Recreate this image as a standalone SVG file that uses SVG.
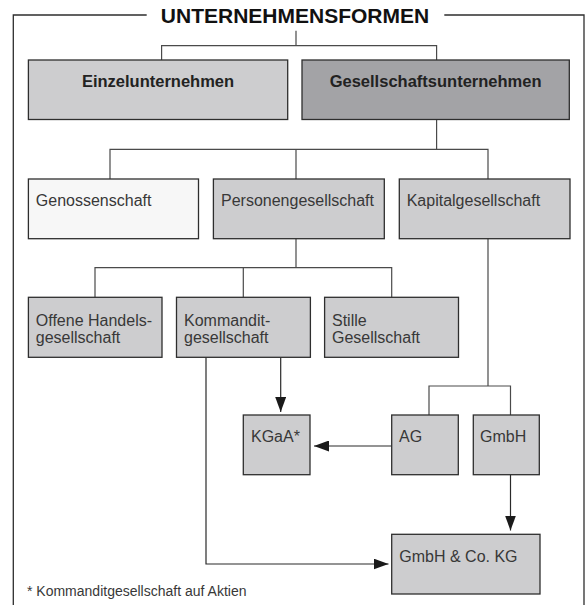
<svg xmlns="http://www.w3.org/2000/svg" width="585" height="605" viewBox="0 0 585 605">
<defs>
<style>
.box{fill:#cdcdcf;stroke:#2e2e2e;stroke-width:1.3}
.dark{fill:#a3a3a6}
.white{fill:#f7f7f7}
.line{fill:none;stroke:#4a4a4a;stroke-width:1.2}
.arrow{fill:none;stroke:#2a2a2a;stroke-width:1.2}
.frame{fill:none;stroke:#2e2e2e;stroke-width:1.3}
.t{font-family:"Liberation Sans",Arial,sans-serif;font-size:16px;fill:#383838}
.b{font-family:"Liberation Sans",Arial,sans-serif;font-size:16.5px;font-weight:bold;fill:#222;text-anchor:middle}
.title{font-family:"Liberation Sans",Arial,sans-serif;font-size:21px;font-weight:bold;fill:#111;text-anchor:middle}
.foot{font-family:"Liberation Sans",Arial,sans-serif;font-size:14px;fill:#383838}
</style>
<marker id="ah" markerUnits="userSpaceOnUse" markerWidth="15" markerHeight="11" refX="15" refY="5.5" orient="auto">
<path d="M0,0 L15,5.5 L0,11 z" fill="#1a1a1a"/>
</marker>
</defs>
<g id="frame">
<path class="frame" d="M146.7,15 H13.3 V605 M444.3,15 H584 V605"/>
<text class="title" x="295" y="22.5">UNTERNEHMENSFORMEN</text>
</g>
<g id="connectors">
<path class="line" d="M296,30.7 V45.7 M161.6,60 V45.7 H436.6 V60"/>
<path class="line" d="M436.6,120 V149.3 M110,179 V149.3 H488 V179 M296,149.3 V179"/>
<path class="line" d="M296,238.7 V267.7 M95,297.3 V267.7 H391.7 V297.3 M243.3,267.7 V297.3"/>
<path class="line" d="M488,238.7 V386 M429,415 V386 H510.5 V415"/>
<path class="arrow" d="M280.7,357.3 V412" marker-end="url(#ah)"/>
<path class="arrow" d="M391.7,446 H314" marker-end="url(#ah)"/>
<path class="arrow" d="M510.5,475 V530.5" marker-end="url(#ah)"/>
<path class="arrow" d="M206,357.3 V564 H388.5" marker-end="url(#ah)"/>
</g>
<g id="einzelunternehmen">
<rect class="box" x="28.4" y="60" width="259.3" height="59.5"/>
<text class="b" x="158" y="87.3">Einzelunternehmen</text>
</g>
<g id="gesellschaftsunternehmen">
<rect class="box dark" x="302" y="60" width="267.3" height="59.5"/>
<text class="b" x="435.6" y="87.3">Gesellschaftsunternehmen</text>
</g>
<g id="genossenschaft">
<rect class="box white" x="28.4" y="179" width="170.1" height="59.7"/>
<text class="t" x="35.8" y="206">Genossenschaft</text>
</g>
<g id="personengesellschaft">
<rect class="box" x="213.4" y="179" width="170.9" height="59.7"/>
<text class="t" x="221" y="206">Personengesellschaft</text>
</g>
<g id="kapitalgesellschaft">
<rect class="box" x="399.3" y="179" width="170.7" height="59.7"/>
<text class="t" x="406.7" y="206">Kapitalgesellschaft</text>
</g>
<g id="ohg">
<rect class="box" x="28.4" y="297.3" width="133.6" height="60"/>
<text class="t" x="35.8" y="326">Offene Handels-</text>
<text class="t" x="35.8" y="343">gesellschaft</text>
</g>
<g id="kg">
<rect class="box" x="176.5" y="297.3" width="133.9" height="60"/>
<text class="t" x="184" y="326">Kommandit-</text>
<text class="t" x="184" y="343">gesellschaft</text>
</g>
<g id="stille">
<rect class="box" x="324.6" y="297.3" width="133.9" height="60"/>
<text class="t" x="332" y="326">Stille</text>
<text class="t" x="332" y="343">Gesellschaft</text>
</g>
<g id="kgaa">
<rect class="box" x="243.3" y="415" width="66.7" height="59.7"/>
<text class="t" x="251" y="442.3">KGaA*</text>
</g>
<g id="ag">
<rect class="box" x="391.7" y="415" width="66.6" height="59.7"/>
<text class="t" x="399" y="442.3">AG</text>
</g>
<g id="gmbh">
<rect class="box" x="473.3" y="415" width="66" height="59.7"/>
<text class="t" x="480" y="442.3">GmbH</text>
</g>
<g id="gmbhcokg">
<rect class="box" x="391.7" y="534.3" width="148.3" height="59.7"/>
<text class="t" x="399.3" y="561.7">GmbH &amp; Co. KG</text>
</g>
<g id="footnote">
<text class="foot" x="27" y="596">* Kommanditgesellschaft auf Aktien</text>
</g>
</svg>
